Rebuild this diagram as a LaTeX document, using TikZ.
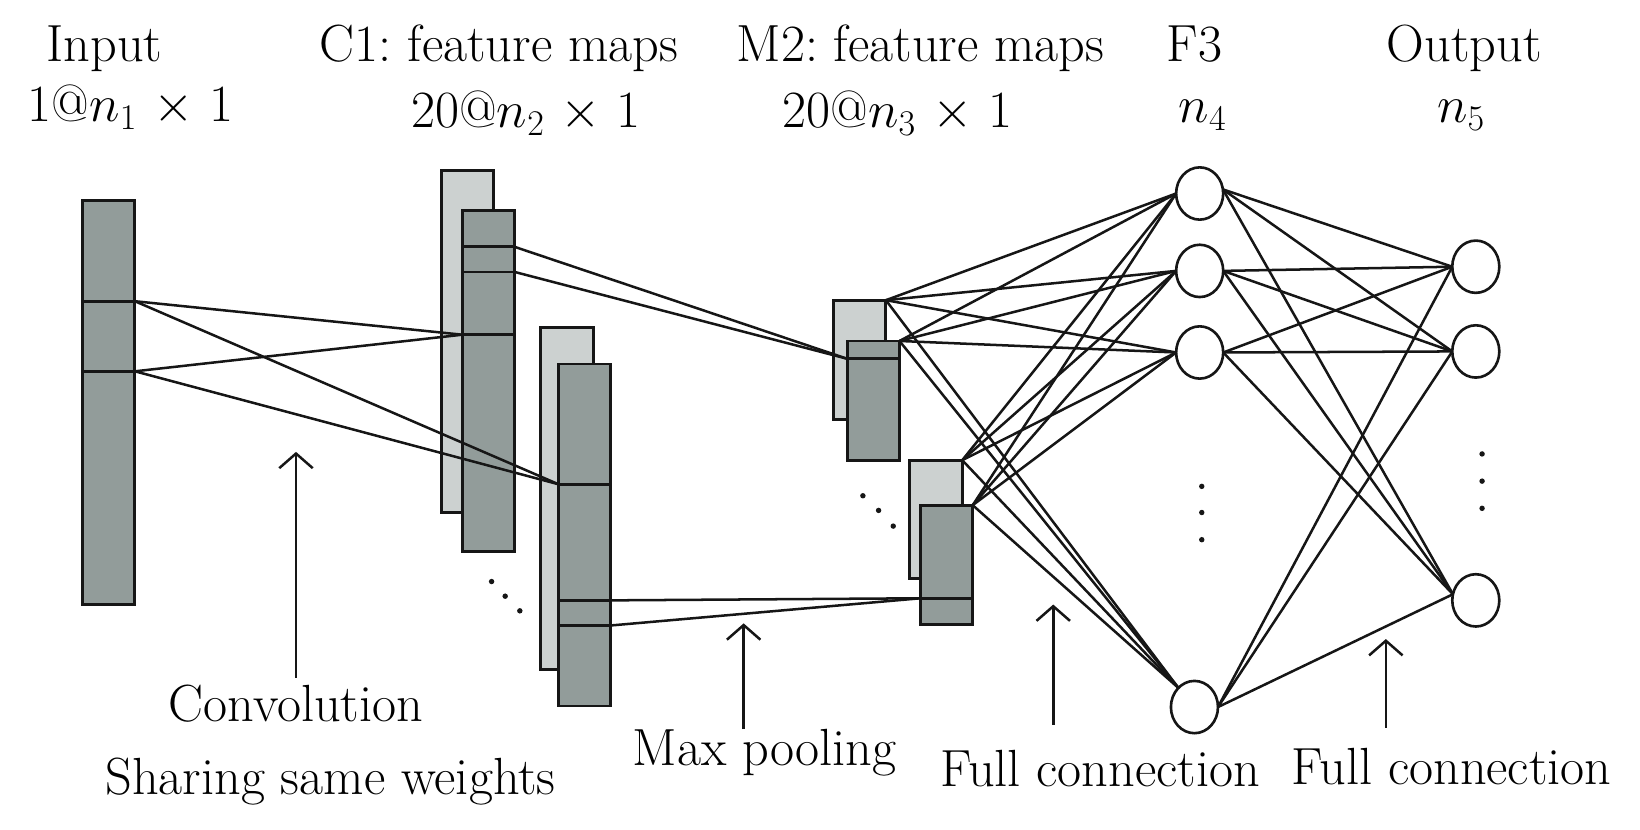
\documentclass[tikz,border=0pt]{standalone}
\usetikzlibrary{arrows.meta,shapes.geometric}
\definecolor{dk}{RGB}{146,156,154}
\definecolor{lt}{RGB}{204,209,208}
\definecolor{ln}{RGB}{22,22,22}
\tikzset{
  mapD/.style={draw=ln, fill=dk, line width=1.4pt, rectangle, inner sep=0pt, outer sep=0pt, anchor=north west, minimum width=25pt},
  mapL/.style={mapD, fill=lt},
  unit/.style={draw=ln, fill=white, ellipse, line width=1.25pt, minimum width=22.5pt, minimum height=25pt, inner sep=0pt, outer sep=0pt},
  conn/.style={draw=ln, line width=1.2pt},
  divl/.style={draw=ln, line width=1.3pt},
  lab/.style={anchor=base, inner sep=0pt},
  uparrow/.style={draw=ln, line width=1.2pt, -{Straight Barb[length=7pt,width=16pt,line width=1.2pt]}},
  dotf/.style={fill=ln}
}
\begin{document}
\frenchspacing
\begin{tikzpicture}[x=0.5pt,y=-0.5pt,font=\fontsize{25}{30}\selectfont]
\useasboundingbox (0,0) rectangle (1568,793);

% ---------- feature map rectangles ----------
\node[mapD, minimum height=193pt] (inp) at (79,192) {};
\node[mapL, minimum height=163.5pt] (c1b) at (422,163) {};
\node[mapD, minimum height=163pt] (c1f) at (442,201) {};
\node[mapL, minimum height=163.5pt] (c2b) at (517,313) {};
\node[mapD, minimum height=163.5pt] (c2f) at (534,348) {};
\node[mapL, minimum height=57pt] (m1b) at (797,287) {};
\node[mapD, minimum height=57pt] (m1f) at (810,326) {};
\node[mapL, minimum height=56.5pt] (m2b) at (870,440) {};
\node[mapD, minimum height=57pt] (m2f) at (880,483) {};

% divider coordinates
\coordinate (i1) at (129,288);
\coordinate (i2) at (129,355);
\coordinate (c1p) at (442,320);
\coordinate (c1q1) at (492,236);
\coordinate (c1q2) at (492,260);
\coordinate (c2p) at (534,463);
\coordinate (c2q1) at (584,574);
\coordinate (c2q2) at (584,598);
\coordinate (m1p) at (810,343);
\coordinate (m2p) at (880,572);

% dividers
\draw[divl] (inp.west |- i1) -- (i1);
\draw[divl] (inp.west |- i2) -- (i2);
\draw[divl] (c1p) -- (c1f.east |- c1p);
\draw[divl] (c1f.west |- c1q1) -- (c1q1);
\draw[divl] (c1f.west |- c1q2) -- (c1q2);
\draw[divl] (c2p) -- (c2f.east |- c2p);
\draw[divl] (c2f.west |- c2q1) -- (c2q1);
\draw[divl] (c2f.west |- c2q2) -- (c2q2);
\draw[divl] (m1p) -- (m1f.east |- m1p);
\draw[divl] (m2p) -- (m2f.east |- m2p);

% ---------- neurons ----------
\node[unit] (f1) at (1147,185) {};
\node[unit] (f2) at (1147,259) {};
\node[unit] (f3) at (1147,337) {};
\node[unit] (f4) at (1142,676) {};
\node[unit] (o1) at (1411,255) {};
\node[unit] (o2) at (1411,336) {};
\node[unit] (o3) at (1411,574) {};

% ---------- connections ----------
% convolution
\draw[conn] (i1) -- (c1p);
\draw[conn] (i1) -- (c2p);
\draw[conn] (i2) -- (c1p);
\draw[conn] (i2) -- (c2p);
% pooling
\draw[conn] (c1q1) -- (m1p);
\draw[conn] (c1q2) -- (m1p);
\draw[conn] (c2q1) -- (m2p);
\draw[conn] (c2q2) -- (m2p);
% full connection M2 -> F3
\foreach \s in {m1b,m1f,m2b,m2f}{
  \draw[conn] (\s.north east) -- (f1.west);
  \draw[conn] (\s.north east) -- (f2.west);
  \draw[conn] (\s.north east) -- (f3.west);
  \draw[conn] (\s.north east) -- (f4.130);
}
% full connection F3 -> Output
\foreach \s/\a in {f1/10,f2/0,f3/0,f4/0}{
  \draw[conn] (\s.\a) -- (o1.west);
  \draw[conn] (\s.\a) -- (o2.west);
  \draw[conn] (\s.\a) -- (o3.165);
}

% ---------- dots ----------
\fill[dotf] (470,556) circle (1.3pt);
\fill[dotf] (483,570) circle (1.3pt);
\fill[dotf] (497,584) circle (1.3pt);
\fill[dotf] (825,474) circle (1.3pt);
\fill[dotf] (840,488) circle (1.3pt);
\fill[dotf] (854,503) circle (1.3pt);
\fill[dotf] (1149,465) circle (1.3pt);
\fill[dotf] (1149,490) circle (1.3pt);
\fill[dotf] (1149,516) circle (1.3pt);
\fill[dotf] (1417,434) circle (1.3pt);
\fill[dotf] (1417,460) circle (1.3pt);
\fill[dotf] (1417,486) circle (1.3pt);

% ---------- arrows ----------
\coordinate (a1s) at (283,648); \coordinate (a1e) at (283,432);
\coordinate (a2s) at (711,697); \coordinate (a2e) at (711,596);
\coordinate (a3s) at (1007,693); \coordinate (a3e) at (1007,578);
\coordinate (a4s) at (1325,696); \coordinate (a4e) at (1325,611);
\draw[uparrow] (a1s) -- (a1e);
\draw[uparrow] (a2s) -- (a2e);
\draw[uparrow] (a3s) -- (a3e);
\draw[uparrow] (a4s) -- (a4e);

% ---------- labels ----------
\node[lab] (tInput) at (100,59) {Input};
\node[lab] (tC1) at (477,59) {C1: feature maps};
\node[lab] (tM2) at (880,59) {M2: feature maps};
\node[lab] (tF3) at (1142,59) {F3};
\node[lab] (tOut) at (1400,59) {Output};
\node[lab] (sInput) at (125,116) {1@$n_1$ $\times$ 1};
\node[lab] (sC1) at (503,122) {20@$n_2$ $\times$ 1};
\node[lab] (sM2) at (858,122) {20@$n_3$ $\times$ 1};
\node[lab] (sF3) at (1150,117) {$n_4$};
\node[lab] (sOut) at (1397,117) {$n_5$};

\node[lab] (lConv) at (283,690) {Convolution};
\node[lab] (lShare) at (316,760) {Sharing same weights};
\node[lab] (lPool) at (731,732) {Max pooling};
\node[lab] (lFC1) at (1052,752) {Full connection};
\node[lab] (lFC2) at (1388,750) {Full connection};
\end{tikzpicture}
\end{document}
